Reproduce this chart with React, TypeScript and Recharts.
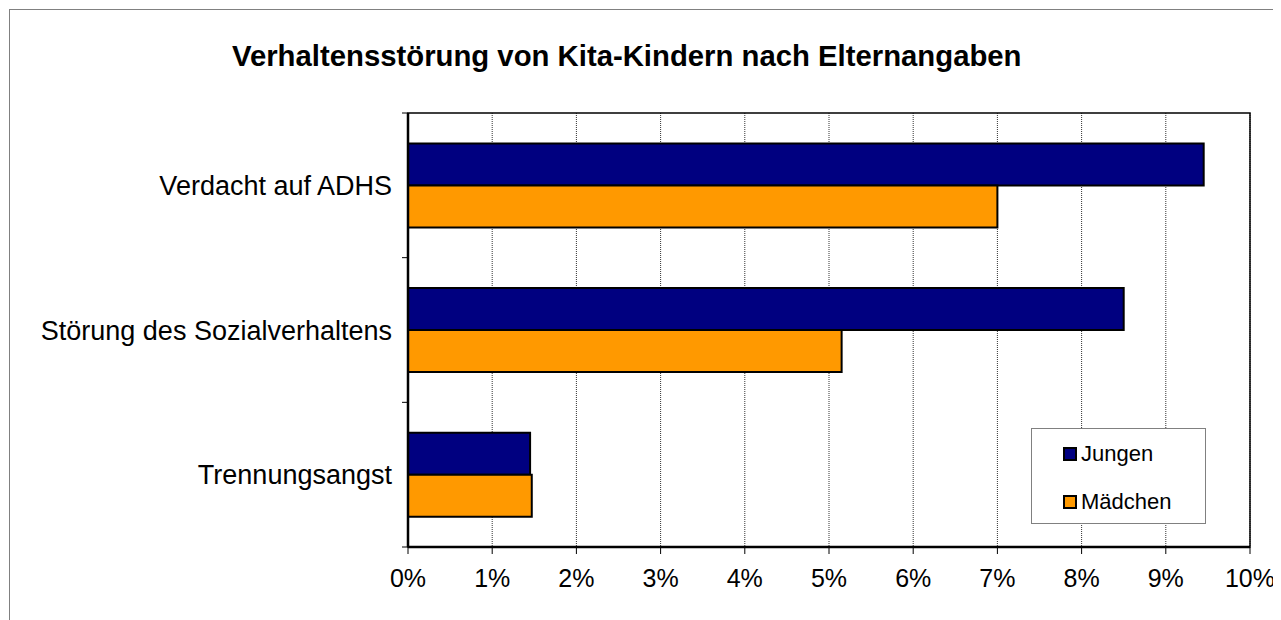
import React from 'react';
import * as Recharts from 'recharts';
import {
  Bar,
  BarChart,
  CartesianGrid,
  Legend,
  XAxis,
  YAxis
} from 'recharts';

const categories = ['Verdacht auf ADHS', 'Störung des Sozialverhaltens', 'Trennungsangst'];
const jungen = [9.45, 8.5, 1.45];
const maedchen = [7.0, 5.15, 1.47];
const xTicks = [0, 1, 2, 3, 4, 5, 6, 7, 8, 9, 10];

const title = 'Verhaltensstörung von Kita-Kindern nach Elternangaben';
const FONT = 'Arial, "Liberation Sans", sans-serif';
const CHART_W = 1273;
const CHART_H = 612;

const data = categories.map((name, i) => ({
  name,
  jungen: jungen[i],
  maedchen: maedchen[i],
}));

const series = [
  { key: 'jungen', name: 'Jungen', color: '#000080' },
  { key: 'maedchen', name: 'Mädchen', color: '#FF9900' },
];

// plot-area hook (name differs between recharts 3 minor versions)
const usePlot: any =
  (Recharts as any).usePlotArea || (Recharts as any).useOffset || (() => null);

// frame around the plot area + tick marks at the category boundaries
const PlotFrame = () => {
  const p = usePlot();
  if (!p) return null;
  const x = p.x ?? p.left;
  const y = p.y ?? p.top;
  const w = p.width ?? CHART_W - p.left - p.right;
  const h = p.height ?? CHART_H - p.top - p.bottom;
  const n = categories.length;
  return (
    <g>
      <rect x={x} y={y} width={w} height={h} fill="none" stroke="#000" strokeWidth={1.5} />
      {Array.from({ length: n + 1 }, (_, i) => (
        <line key={i} x1={x - 6} x2={x} y1={y + (h * i) / n} y2={y + (h * i) / n} stroke="#000" strokeWidth={1} />
      ))}
    </g>
  );
};

const LegendBox = () => (
  <div
    style={{
      width: 175,
      height: 96,
      boxSizing: 'border-box',
      border: '1px solid #808080',
      background: '#fff',
      position: 'relative',
      fontFamily: FONT,
      fontSize: 22,
      color: '#000',
    }}
  >
    {series.map((s, i) => (
      <div
        key={s.key}
        style={{
          position: 'absolute',
          left: 31,
          top: 12 + i * 48,
          display: 'flex',
          alignItems: 'center',
          height: 26,
        }}
      >
        <span
          style={{
            display: 'inline-block',
            width: 14,
            height: 14,
            boxSizing: 'border-box',
            background: s.color,
            border: '2px solid #000',
            marginRight: 4,
          }}
        />
        <span>{s.name}</span>
      </div>
    ))}
  </div>
);

const App = () => {
  return (
    <div style={{ position: 'relative', width: CHART_W, height: CHART_H, overflow: 'hidden', fontFamily: FONT }}>
      <div
        style={{
          position: 'absolute',
          left: 1,
          top: 1,
          width: 1400,
          height: 700,
          borderLeft: '1px solid #808080',
          borderTop: '1px solid #808080',
        }}
      />
      <div
        style={{
          position: 'absolute',
          left: 224,
          top: 32,
          whiteSpace: 'nowrap',
          fontWeight: 'bold',
          fontSize: 29.3,
          lineHeight: '32px',
          color: '#000',
        }}
      >
        {title}
      </div>
      <div style={{ position: 'absolute', left: 0, top: 0 }}>
        <BarChart
          width={CHART_W}
          height={CHART_H}
          data={data}
          layout="vertical"
          margin={{ top: 105, right: 31, bottom: 33, left: 0 }}
          barCategoryGap="21%"
          barGap={0}
        >
          <CartesianGrid horizontal={false} vertical stroke="#333" strokeDasharray="1 1" />
          <PlotFrame />
          <YAxis
            type="category"
            dataKey="name"
            width={400}
            tickLine={false}
            tickSize={0}
            tickMargin={16}
            interval={0}
            tick={{ fontSize: 27, fill: '#000', fontFamily: FONT }}
            axisLine={{ stroke: '#000', strokeWidth: 2.5 }}
          />
          <XAxis
            type="number"
            domain={[0, 10]}
            ticks={xTicks}
            interval={0}
            height={40}
            tickFormatter={(v) => `${v}%`}
            tick={{ fontSize: 25, fill: '#000', fontFamily: FONT }}
            tickSize={7}
            tickMargin={15}
            tickLine={{ stroke: '#000', strokeWidth: 1 }}
            axisLine={{ stroke: '#000', strokeWidth: 2.5 }}
          />
          <Legend
            layout="horizontal"
            verticalAlign="middle"
            align="center"
            content={() => <LegendBox />}
            wrapperStyle={{ position: 'absolute', left: 1023, top: 420, width: 175, height: 96 }}
          />
          {series.map((s) => (
            <Bar
              key={s.key}
              dataKey={s.key}
              name={s.name}
              fill={s.color}
              stroke="#000"
              strokeWidth={2}
              isAnimationActive={false}
            />
          ))}
        </BarChart>
      </div>
    </div>
  );
};

export default App;
